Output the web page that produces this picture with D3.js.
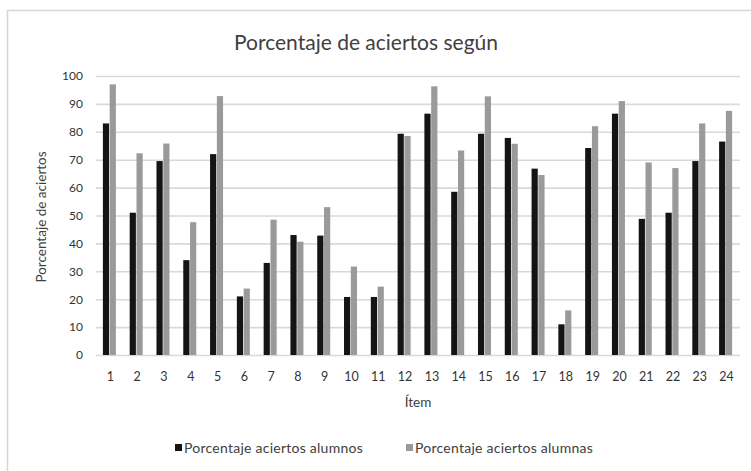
<!DOCTYPE html>
<html>
<head>
<meta charset="utf-8">
<script src="https://cdn.jsdelivr.net/npm/d3@7"></script>
<style>
  html, body { margin: 0; padding: 0; background: #fff; }
  svg { display: block; }
  text { font-family: Lato, "Open Sans", sans-serif; }
</style>
</head>
<body>
<svg id="chart" width="751" height="471"></svg>
<script>
// Ítems of the test
const items = d3.range(1, 25).map(String);
// Porcentaje de aciertos por ítem
const alumnos = [83, 51, 69.5, 34, 72, 21, 33, 43, 42.8, 20.8, 20.8, 79.3, 86.5, 58.5, 79.3, 77.8, 66.8, 11, 74.2, 86.5, 48.8, 51, 69.5, 76.5];
const alumnas = [97, 72.3, 75.8, 47.6, 92.8, 23.8, 48.5, 40.6, 53, 31.7, 24.5, 78.5, 96.3, 73.3, 92.7, 75.7, 64.5, 16, 82, 91, 69, 67, 83, 87.5];
const yTicks = [0, 10, 20, 30, 40, 50, 60, 70, 80, 90, 100];
const seriesNames = ["Porcentaje aciertos alumnos", "Porcentaje aciertos alumnas"];
const seriesColors = ["#141414", "#9a9a9a"];

const svg = d3.select("#chart");
svg.append("rect").attr("width", 751).attr("height", 471).attr("fill", "#fff");

// outer chart frame
svg.append("rect")
  .attr("x", 7.5).attr("y", 10.5).attr("width", 900).attr("height", 600)
  .attr("fill", "none").attr("stroke", "#d6d6d6").attr("stroke-width", 1.5);

const x = d3.scaleBand().domain(items).range([97, 740]).paddingInner(0).paddingOuter(0);
const y = d3.scaleLinear().domain([0, 100]).range([355, 76]);

// horizontal gridlines + value labels
const yAxis = d3.axisLeft(y).tickValues(yTicks).tickSize(-(740 - 96)).tickPadding(13);
const gy = svg.append("g").attr("transform", "translate(96,0)").call(yAxis);
gy.select(".domain").remove();
gy.selectAll(".tick line").attr("stroke", "#d9d9d9").attr("stroke-width", 1.6);
gy.selectAll(".tick text").attr("fill", "#333").attr("font-size", 12);

// x axis labels
const xAxis = d3.axisBottom(x).tickSize(0).tickPadding(17);
const gx = svg.append("g").attr("transform", "translate(0,355)").call(xAxis);
gx.select(".domain").remove();
gx.selectAll(".tick text").attr("fill", "#333").attr("font-size", 12.5);

// bars
const barW = 6.2;
const groups = svg.append("g");
items.forEach((it, i) => {
  const cx = x(it) + x.bandwidth() / 2 - 1;
  [alumnos[i], alumnas[i]].forEach((v, s) => {
    groups.append("rect")
      .attr("x", s === 0 ? cx - barW - 0.3 : cx + 0.3)
      .attr("y", y(v))
      .attr("width", barW)
      .attr("height", y(0) - y(v))
      .attr("fill", seriesColors[s]);
  });
});

// title
svg.append("text")
  .attr("x", 366).attr("y", 50)
  .attr("text-anchor", "middle")
  .attr("font-size", 21)
  .attr("fill", "#404040")
  .text("Porcentaje de aciertos según");

// axis titles
svg.append("text")
  .attr("transform", "translate(46,217) rotate(-90)")
  .attr("text-anchor", "middle")
  .attr("font-size", 13.5)
  .attr("fill", "#404040")
  .text("Porcentaje de aciertos");

svg.append("text")
  .attr("x", 418).attr("y", 407)
  .attr("text-anchor", "middle")
  .attr("font-size", 13.5)
  .attr("fill", "#404040")
  .text("Ítem");

// legend
const legendX = [175, 406];
seriesNames.forEach((n, s) => {
  const g = svg.append("g").attr("transform", `translate(${legendX[s]},448)`);
  g.append("rect").attr("x", 0).attr("y", -4).attr("width", 7).attr("height", 7).attr("fill", seriesColors[s]);
  g.append("text").attr("x", 9).attr("y", 0).attr("dy", "0.35em")
    .attr("font-size", 14).attr("letter-spacing", 0.25).attr("fill", "#404040").text(n);
});
</script>
</body>
</html>
